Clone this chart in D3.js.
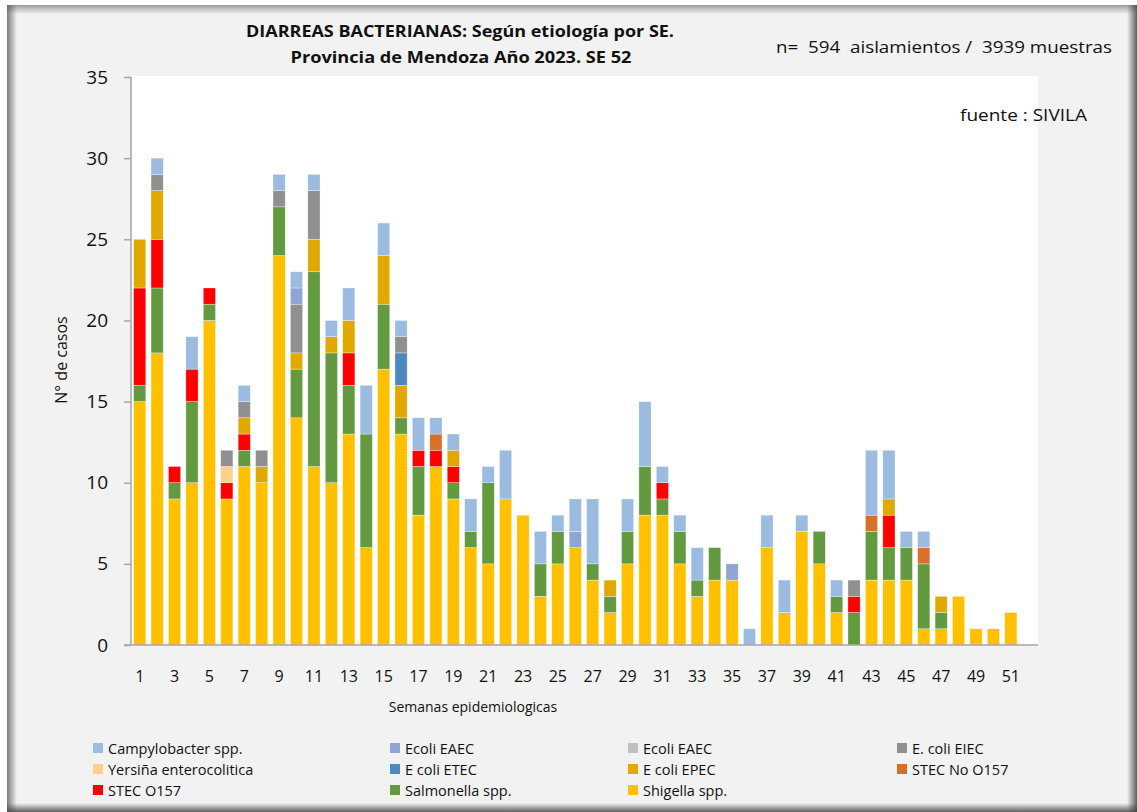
<!DOCTYPE html>
<html>
<head>
<meta charset="utf-8">
<script src="https://cdn.jsdelivr.net/npm/d3@7"></script>
<style>
  body { margin: 0; background: #fff; }
  svg { display: block; font-family: "Open Sans", sans-serif; }
</style>
</head>
<body>
<svg id="chart" width="1137" height="812"></svg>
<script>
// semanas epidemiologicas
var weeks = [1,2,3,4,5,6,7,8,9,10,11,12,13,14,15,16,17,18,19,20,21,22,23,24,25,26,
             27,28,29,30,31,32,33,34,35,36,37,38,39,40,41,42,43,44,45,46,47,48,49,50,51,52];
var weekLabels = [1,3,5,7,9,11,13,15,17,19,21,23,25,27,29,31,33,35,37,39,41,43,45,47,49,51];
var yTicks = [0,5,10,15,20,25,30,35];

var shigella   = [15,18,9,10,20,9,11,10,24,14, 11,10,13,6,17,13,8,11,9,6, 5,9,8,3,5,6,4,2,5,8, 8,5,3,4,4,0,6,2,7,5, 2,0,4,4,4,1,1,3,1,1, 2,0];
var salmonella = [1,4,1,5,1,0,1,0,3,3, 12,8,3,7,4,1,3,0,1,1, 5,0,0,2,2,0,1,1,2,3, 1,2,1,2,0,0,0,0,0,2, 1,2,3,2,2,4,1,0,0,0, 0,0];
var stecO157   = [6,3,1,2,1,1,1,0,0,0, 0,0,2,0,0,0,1,1,1,0, 0,0,0,0,0,0,0,0,0,0, 1,0,0,0,0,0,0,0,0,0, 0,1,0,2,0,0,0,0,0,0, 0,0];
var stecNo     = [0,0,0,0,0,0,0,0,0,0, 0,0,0,0,0,0,0,1,0,0, 0,0,0,0,0,0,0,0,0,0, 0,0,0,0,0,0,0,0,0,0, 0,0,1,0,0,1,0,0,0,0, 0,0];
var epec       = [3,3,0,0,0,0,1,1,0,1, 2,1,2,0,3,2,0,0,1,0, 0,0,0,0,0,0,0,1,0,0, 0,0,0,0,0,0,0,0,0,0, 0,0,0,1,0,0,1,0,0,0, 0,0];
var etec       = [0,0,0,0,0,0,0,0,0,0, 0,0,0,0,0,2,0,0,0,0, 0,0,0,0,0,0,0,0,0,0, 0,0,0,0,0,0,0,0,0,0, 0,0,0,0,0,0,0,0,0,0, 0,0];
var yersinia   = [0,0,0,0,0,1,0,0,0,0, 0,0,0,0,0,0,0,0,0,0, 0,0,0,0,0,0,0,0,0,0, 0,0,0,0,0,0,0,0,0,0, 0,0,0,0,0,0,0,0,0,0, 0,0];
var eiec       = [0,1,0,0,0,1,1,1,1,3, 3,0,0,0,0,1,0,0,0,0, 0,0,0,0,0,0,0,0,0,0, 0,0,0,0,0,0,0,0,0,0, 0,1,0,0,0,0,0,0,0,0, 0,0];
var eaecGris   = [0,0,0,0,0,0,0,0,0,0, 0,0,0,0,0,0,0,0,0,0, 0,0,0,0,0,0,0,0,0,0, 0,0,0,0,0,0,0,0,0,0, 0,0,0,0,0,0,0,0,0,0, 0,0];
var eaec       = [0,0,0,0,0,0,0,0,0,1, 0,0,0,0,0,0,0,0,0,0, 0,0,0,0,0,1,0,0,0,0, 0,0,0,0,1,0,0,0,0,0, 0,0,0,0,0,0,0,0,0,0, 0,0];
var campy      = [0,1,0,2,0,0,1,0,1,1, 1,1,2,3,2,1,2,1,1,2, 1,3,0,2,1,2,4,0,2,4, 1,1,2,0,0,1,2,2,1,0, 1,0,4,3,1,1,0,0,0,0, 0,0];

// orden de la leyenda (de arriba hacia abajo en la pila)
var series = [
  { key: "campy",     name: "Campylobacter spp.",     color: "#9bbbe1", values: campy },
  { key: "eaec",      name: "Ecoli EAEC",             color: "#8fa5d6", values: eaec },
  { key: "eaecGris",  name: "Ecoli EAEC",             color: "#c0c0c0", values: eaecGris },
  { key: "eiec",      name: "E. coli EIEC",           color: "#909090", values: eiec },
  { key: "yersinia",  name: "Yersiña enterocolitica", color: "#ffd08a", values: yersinia },
  { key: "etec",      name: "E coli ETEC",            color: "#4e89be", values: etec },
  { key: "epec",      name: "E coli EPEC",            color: "#e1a900", values: epec },
  { key: "stecNo",    name: "STEC No O157",           color: "#d6702b", values: stecNo },
  { key: "stecO157",  name: "STEC O157",              color: "#ff0000", values: stecO157 },
  { key: "salmonella",name: "Salmonella spp.",        color: "#63993f", values: salmonella },
  { key: "shigella",  name: "Shigella spp.",          color: "#ffc000", values: shigella }
];

var svg = d3.select("#chart");
var W = 1137, H = 812;

// marco con sombra interior
var defs = svg.append("defs");
function edgeGrad(id, x1, y1, x2, y2, dark, op) {
  var g = defs.append("linearGradient").attr("id", id)
    .attr("x1", x1).attr("y1", y1).attr("x2", x2).attr("y2", y2);
  g.append("stop").attr("offset", "0%").attr("stop-color", dark).attr("stop-opacity", op);
  g.append("stop").attr("offset", "100%").attr("stop-color", dark).attr("stop-opacity", 0);
}
edgeGrad("gl", 0, 0, 1, 0, "#555", 0.75);
edgeGrad("gt", 0, 0, 0, 1, "#555", 0.55);
edgeGrad("gr", 1, 0, 0, 0, "#444", 0.85);
edgeGrad("gb", 0, 1, 0, 0, "#444", 0.85);

svg.append("rect").attr("x", 7).attr("y", 5).attr("width", W - 7).attr("height", H - 5).attr("fill", "#f2f2f2");
svg.append("rect").attr("x", 7).attr("y", 5).attr("width", 10).attr("height", H - 5).attr("fill", "url(#gl)");
svg.append("rect").attr("x", 7).attr("y", 5).attr("width", W - 7).attr("height", 9).attr("fill", "url(#gt)");
svg.append("rect").attr("x", W - 10).attr("y", 5).attr("width", 10).attr("height", H - 5).attr("fill", "url(#gr)");
svg.append("rect").attr("x", 7).attr("y", H - 9).attr("width", W - 7).attr("height", 9).attr("fill", "url(#gb)");

var plot = { left: 131, right: 1038, top: 76, bottom: 645 };

svg.append("rect")
  .attr("x", plot.left).attr("y", plot.top)
  .attr("width", plot.right - plot.left).attr("height", plot.bottom - plot.top)
  .attr("fill", "#ffffff");

var x = d3.scaleBand().domain(weeks).range([plot.left, 1037])
  .paddingInner(0.3).paddingOuter(0.15);
var y = d3.scaleLinear().domain([0, 35]).range([plot.bottom, 77]);

// tabla para d3.stack
var table = weeks.map(function (w, i) {
  var row = { week: w };
  series.forEach(function (s) { row[s.key] = s.values[i]; });
  return row;
});
var stackKeys = series.map(function (s) { return s.key; }).reverse();
var stacked = d3.stack().keys(stackKeys)(table);
var colorOf = {};
series.forEach(function (s) { colorOf[s.key] = s.color; });

svg.append("g").selectAll("g")
  .data(stacked).enter().append("g")
  .attr("fill", function (d) { return colorOf[d.key]; })
  .selectAll("rect")
  .data(function (d) { return d.filter(function (p) { return p[1] > p[0]; }); })
  .enter().append("rect")
  .attr("x", function (d) { return x(d.data.week); })
  .attr("width", x.bandwidth())
  .attr("y", function (d) { return y(d[1]); })
  .attr("height", function (d) { return y(d[0]) - y(d[1]); })
  .attr("stroke", "#ffffff").attr("stroke-opacity", 0.55).attr("stroke-width", 0.6);

// eje Y
var yAxis = d3.axisLeft(y).tickValues(yTicks).tickSize(7).tickPadding(16);
var gy = svg.append("g").attr("transform", "translate(" + plot.left + ",0)").call(yAxis);
gy.select(".domain").attr("stroke", "#a6a6a6").attr("stroke-width", 1.5).attr("d", "M0," + 77 + "V" + plot.bottom);
gy.selectAll(".tick line").attr("stroke", "#a6a6a6").attr("stroke-width", 1.5);
gy.selectAll(".tick text").attr("font-size", 19).attr("fill", "#111").attr("font-family", "Open Sans");

// eje X
var xAxis = d3.axisBottom(x).tickValues(weekLabels).tickSize(0).tickPadding(26);
var gx = svg.append("g").attr("transform", "translate(0," + plot.bottom + ")").call(xAxis);
gx.select(".domain").attr("stroke", "#a6a6a6").attr("stroke-width", 1.5).attr("d", "M124,0H1038");
gx.selectAll(".tick text").attr("font-size", 16).attr("fill", "#111").attr("font-family", "Open Sans");

// titulos
svg.append("text").attr("x", 460).attr("y", 37).attr("text-anchor", "middle")
  .attr("font-weight", "bold").attr("font-size", 16).attr("fill", "#111")
  .attr("textLength", 428).attr("lengthAdjust", "spacingAndGlyphs")
  .text("DIARREAS BACTERIANAS: Según etiología por SE.");
svg.append("text").attr("x", 461).attr("y", 63).attr("text-anchor", "middle")
  .attr("font-weight", "bold").attr("font-size", 16).attr("fill", "#111")
  .attr("textLength", 341).attr("lengthAdjust", "spacingAndGlyphs")
  .text("Provincia de Mendoza Año 2023. SE 52");
svg.append("text").attr("x", 776).attr("y", 53).attr("font-size", 16.5).attr("fill", "#111")
  .attr("textLength", 336).attr("lengthAdjust", "spacingAndGlyphs")
  .attr("xml:space", "preserve")
  .text("n=  594  aislamientos /  3939 muestras");
svg.append("text").attr("x", 960).attr("y", 121).attr("font-size", 16.5).attr("fill", "#111")
  .attr("textLength", 127).attr("lengthAdjust", "spacingAndGlyphs")
  .text("fuente : SIVILA");

svg.append("text").attr("transform", "translate(67,360) rotate(-90)")
  .attr("text-anchor", "middle").attr("font-size", 16).attr("fill", "#111")
  .text("N° de casos");
svg.append("text").attr("x", 473).attr("y", 712).attr("text-anchor", "middle")
  .attr("font-size", 14).attr("fill", "#111")
  .text("Semanas epidemiologicas");

// leyenda: 4 columnas
var legX = [93, 390, 628, 897], legY = [748, 769, 790];
var leg = svg.append("g").selectAll("g").data(series).enter().append("g")
  .attr("transform", function (d, i) {
    return "translate(" + legX[i % 4] + "," + legY[Math.floor(i / 4)] + ")";
  });
leg.append("rect").attr("x", 0).attr("y", -5).attr("width", 10).attr("height", 10)
  .attr("fill", function (d) { return d.color; });
leg.append("text").attr("x", 15).attr("y", 5.5).attr("font-size", 14.5).attr("fill", "#111")
  .text(function (d) { return d.name; });
</script>
</body>
</html>
